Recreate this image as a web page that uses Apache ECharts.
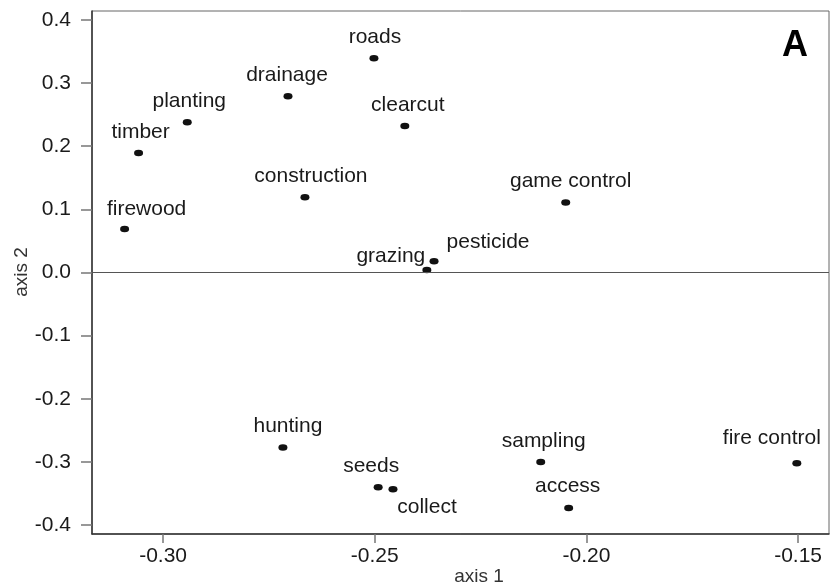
<!DOCTYPE html>
<html>
<head>
<meta charset="utf-8">
<script src="https://cdn.jsdelivr.net/npm/echarts@6/dist/echarts.min.js"></script>
<style>
  html, body { margin: 0; padding: 0; background: #fff; }
  #chart { width: 830px; height: 586px; }
</style>
</head>
<body>
<div id="chart"></div>
<script>
// Ordination scores of management practices
const practices = ['roads', 'drainage', 'planting', 'timber', 'firewood', 'clearcut',
  'construction', 'game control', 'pesticide', 'grazing', 'hunting', 'seeds',
  'collect', 'sampling', 'access', 'fire control'];
const axis1 = [-0.2502, -0.2705, -0.2943, -0.3058, -0.3091, -0.2429,
  -0.2665, -0.2049, -0.2360, -0.2377, -0.2717, -0.2492,
  -0.2457, -0.2108, -0.2042, -0.1503];
const axis2 = [0.339, 0.279, 0.238, 0.189, 0.069, 0.232,
  0.119, 0.111, 0.018, 0.004, -0.277, -0.340,
  -0.343, -0.300, -0.373, -0.302];

const xTicks = [-0.30, -0.25, -0.20, -0.15];
const yTicks = [-0.4, -0.3, -0.2, -0.1, 0.0, 0.1, 0.2, 0.3, 0.4];

// Label placement relative to each point (pixels)
const labelShift = [
  [1, -21], [-1, -21], [2, -21], [2, -21], [22, -20], [3, -21],
  [6, -21], [5, -21], [54, -19], [-36, -14], [5, -21], [-7, -21],
  [34, 18], [3, -21], [-1, -22], [-25, -25]
];

const FONT = '"Liberation Sans", Arial, sans-serif';

const points = practices.map((name, i) => ({
  name: name,
  value: [axis1[i], axis2[i]],
  label: { offset: labelShift[i] }
}));

const chart = echarts.init(document.getElementById('chart'));
chart.setOption({
  animation: false,
  backgroundColor: '#fff',
  grid: {
    left: 92, top: 11, width: 737, height: 523,
    show: true, borderColor: '#666', borderWidth: 1, backgroundColor: 'transparent'
  },
  xAxis: {
    type: 'value',
    min: -0.3168, max: -0.1427,
    splitLine: { show: false },
    axisLine: { onZero: false, lineStyle: { color: '#333', width: 1.5 } },
    axisTick: { customValues: xTicks, length: 9, lineStyle: { color: '#777', width: 1.5 } },
    axisLabel: {
      customValues: xTicks, margin: 12,
      formatter: v => v.toFixed(2),
      color: '#1a1a1a', fontSize: 21, fontFamily: FONT
    }
  },
  yAxis: {
    type: 'value',
    min: -0.414, max: 0.414,
    splitLine: { show: false },
    axisLine: { onZero: false, lineStyle: { color: '#333', width: 1.5 } },
    axisTick: { customValues: yTicks, length: 11, lineStyle: { color: '#777', width: 1.5 } },
    axisLabel: {
      customValues: yTicks, margin: 21,
      formatter: v => v.toFixed(1),
      color: '#1a1a1a', fontSize: 21, fontFamily: FONT
    }
  },
  series: [{
    type: 'scatter',
    data: points,
    symbol: 'circle',
    symbolSize: [9, 6.5],
    itemStyle: { color: '#111', opacity: 1 },
    label: {
      show: true,
      position: 'inside',
      formatter: p => p.name,
      color: '#1a1a1a',
      textBorderWidth: 0,
      fontSize: 21,
      fontFamily: FONT
    },
    markLine: {
      silent: true,
      symbol: 'none',
      label: { show: false },
      lineStyle: { color: '#555', width: 1.2, type: 'solid' },
      data: [{ yAxis: 0 }]
    }
  }],
  graphic: [
    {
      type: 'text',
      style: { text: 'axis 1', x: 479, y: 577, align: 'center', verticalAlign: 'middle',
        fill: '#333', fontSize: 19, fontFamily: FONT }
    },
    {
      type: 'text', x: 22, y: 272, rotation: Math.PI / 2,
      style: { text: 'axis 2', x: 0, y: 0, align: 'center', verticalAlign: 'middle',
        fill: '#333', fontSize: 19, fontFamily: FONT }
    },
    {
      type: 'text',
      style: { text: 'A', x: 795, y: 46, align: 'center', verticalAlign: 'middle',
        fill: '#000', fontSize: 36, fontWeight: 'bold', fontFamily: FONT }
    }
  ]
});
</script>
</body>
</html>
